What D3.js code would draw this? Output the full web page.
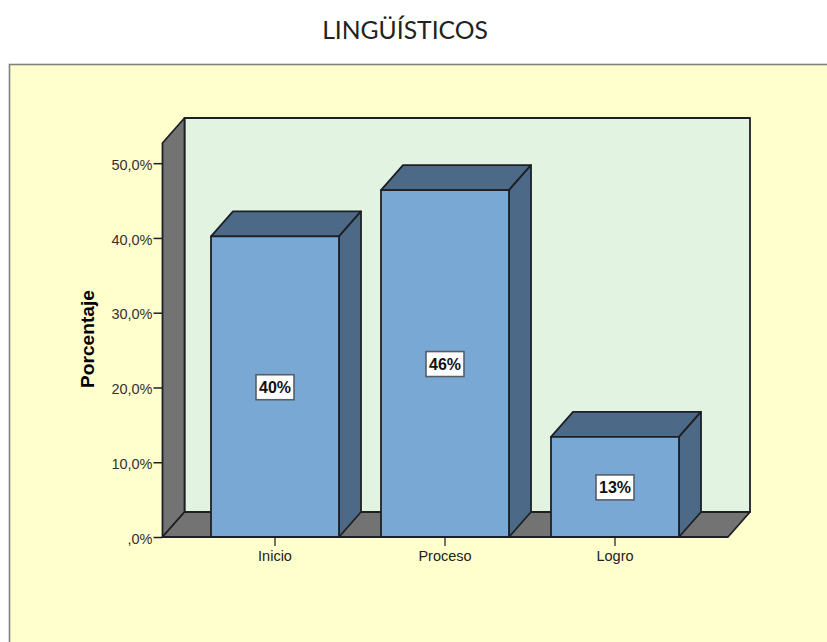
<!DOCTYPE html>
<html><head><meta charset="utf-8">
<script src="https://cdn.jsdelivr.net/npm/d3@7/dist/d3.min.js"></script>
<style>html,body{margin:0;padding:0;background:#fff}svg{display:block}</style>
</head><body><div id="c"></div>
<script>
const categories = ["Inicio", "Proceso", "Logro"];
const values = [40.2, 46.4, 13.4];
const barLabels = ["40%", "46%", "13%"];
const yTicks = [0, 10, 20, 30, 40, 50];
const yTickLabels = [",0%", "10,0%", "20,0%", "30,0%", "40,0%", "50,0%"];
const titleText = "LINGÜÍSTICOS";
const yTitle = "Porcentaje";

const W = 827, H = 642, DX = 22, DY = 25;
const stroke = "#1c2024";
const svg = d3.select("#c").append("svg").attr("width", W).attr("height", H);
const y = d3.scaleLinear().domain([0, 52.7]).range([537, 143]);
const x = d3.scaleBand().domain(categories).range([190, 700]).paddingInner(42/170).paddingOuter(21/170);
const floorL = 162.5, floorR = 728;

svg.append("rect").attr("x", 9.5).attr("y", 64.5).attr("width", W + 20).attr("height", H + 20)
  .attr("fill", "#ffffcd").attr("stroke", "#808080").attr("stroke-width", 1.6);
svg.append("text").attr("x", 405).attr("y", 38.5).attr("text-anchor", "middle")
  .attr("font-family", "Lato, 'Open Sans', sans-serif").attr("font-size", 24.7).attr("fill", "#222").text(titleText);

const poly = (pts, fill) => svg.append("polygon").attr("points", pts.map(p => p.join(",")).join(" "))
  .attr("fill", fill).attr("stroke", stroke).attr("stroke-width", 1.8).attr("stroke-linejoin", "round");
const y0 = y(0), yT = y(y.domain()[1]);
poly([[floorL + DX, yT - DY], [floorR + DX, yT - DY], [floorR + DX, y0 - DY], [floorL + DX, y0 - DY]], "#e2f3e2");
poly([[floorL, yT], [floorL + DX, yT - DY], [floorL + DX, y0 - DY], [floorL, y0]], "#737373");
poly([[floorL, y0], [floorL + DX, y0 - DY], [floorR + DX, y0 - DY], [floorR, y0]], "#737373");

const axisG = svg.append("g").attr("transform", `translate(${floorL},0)`)
  .call(d3.axisLeft(y).tickValues(yTicks).tickSize(9).tickPadding(1).tickFormat((d, i) => yTickLabels[i]));
axisG.select(".domain").remove();
axisG.selectAll("line").attr("stroke", stroke).attr("stroke-width", 1.5);
axisG.selectAll("text").attr("font-family", "'Liberation Sans', Arial, sans-serif").attr("font-size", 14.5).attr("fill", "#333").attr("dy", "0.42em");

const xAxisG = svg.append("g").attr("transform", `translate(0,${y0})`)
  .call(d3.axisBottom(x).tickSize(9).tickPadding(5));
xAxisG.select(".domain").remove();
xAxisG.selectAll("line").attr("stroke", "#444").attr("stroke-width", 1.5);
xAxisG.selectAll("text").attr("font-family", "'Liberation Sans', Arial, sans-serif").attr("font-size", 14.5).attr("fill", "#222");

svg.append("text").attr("transform", "translate(93.5,339) rotate(-90)").attr("text-anchor", "middle")
  .attr("font-family", "'Liberation Sans', Arial, sans-serif").attr("font-weight", "bold").attr("font-size", 18)
  .attr("textLength", 98).attr("lengthAdjust", "spacingAndGlyphs").attr("fill", "#000").text(yTitle);

categories.forEach((c, i) => {
  const l = x(c), r = l + x.bandwidth(), t = y(values[i]);
  poly([[l, t], [l + DX, t - DY], [r + DX, t - DY], [r, t]], "#4c6a87");
  poly([[r, t], [r + DX, t - DY], [r + DX, y0 - DY], [r, y0]], "#4c6a87");
  poly([[l, t], [r, t], [r, y0], [l, y0]], "#7aa8d5");
  const cx = l + x.bandwidth() / 2, cy = (t + y0) / 2;
  svg.append("rect").attr("x", cx - 19).attr("y", cy - 12).attr("width", 38).attr("height", 25)
    .attr("fill", "#fff").attr("stroke", "#555e66").attr("stroke-width", 1.6);
  svg.append("text").attr("x", cx).attr("y", cy + 6.5).attr("text-anchor", "middle")
    .attr("font-family", "'Liberation Sans', Arial, sans-serif").attr("font-weight", "bold").attr("font-size", 17)
    .attr("textLength", 32).attr("lengthAdjust", "spacingAndGlyphs").attr("fill", "#111").text(barLabels[i]);
});
</script></body></html>
